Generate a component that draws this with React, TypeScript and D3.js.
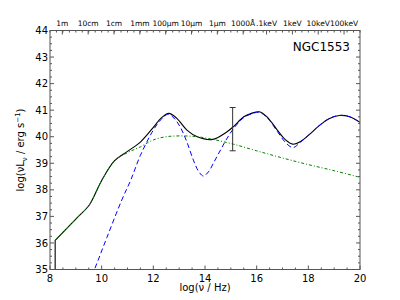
import React, { useEffect, useRef } from 'react';
import * as d3 from 'd3';

// SED of NGC1553: total model (black), AGN-like component (blue dashed), host (green dash-dot)
const totalNu = [8.2, 9.0, 9.5, 9.7, 10.0, 10.5, 11.0, 11.5, 12.0, 12.3, 12.6, 12.9, 13.3, 13.7, 14.3, 14.8, 15.1, 15.5, 15.8, 16.1, 16.4, 16.8, 17.1, 17.4, 17.7, 18.0, 18.4, 18.8, 19.2, 19.6, 20.0];
const totalL = [36.1, 36.9, 37.4, 37.75, 38.35, 39.1, 39.45, 39.8, 40.35, 40.7, 40.88, 40.7, 40.25, 40.0, 39.9, 40.15, 40.38, 40.75, 40.88, 40.94, 40.75, 40.25, 39.9, 39.72, 39.82, 40.05, 40.4, 40.68, 40.8, 40.75, 40.54];

const agnNu = [9.5, 9.72, 10.2, 10.78, 11.14, 11.5, 12.0, 12.3, 12.58, 12.8, 13.05, 13.3, 13.55, 13.75, 13.94, 14.15, 14.35, 14.6, 14.8, 15.1, 15.5, 15.8, 16.1, 16.4, 16.8, 17.1, 17.35, 17.45, 17.7, 18.0, 18.4, 18.8, 19.2, 19.6, 20.0];
const agnL = [34.5, 35.0, 36.2, 37.62, 38.4, 39.3, 40.25, 40.65, 40.85, 40.7, 40.35, 39.8, 39.12, 38.7, 38.52, 38.7, 39.05, 39.5, 39.85, 40.3, 40.72, 40.86, 40.92, 40.72, 40.2, 39.8, 39.6, 39.6, 39.8, 40.05, 40.4, 40.68, 40.8, 40.75, 40.54];

const hostNu = [8.2, 9.0, 9.5, 9.7, 10.0, 10.5, 11.0, 11.5, 12.0, 12.5, 13.0, 13.7, 14.4, 15.1, 16.0, 17.0, 18.0, 19.0, 20.0];
const hostL = [36.1, 36.9, 37.4, 37.75, 38.35, 39.1, 39.4, 39.62, 39.88, 40.0, 40.03, 40.0, 39.88, 39.72, 39.47, 39.2, 38.95, 38.72, 38.47];

// error bar point
const errNu = 15.07;
const errLow = 39.47;
const errHigh = 41.1;

// top axis: wavelength / energy labels
const topLabels = ['1m', '10cm', '1cm', '1mm', '100μm', '10μm', '1μm', '1000Å', '.1keV', '1keV', '10keV', '100keV'];
const topTicks = [8.477, 9.477, 10.477, 11.477, 12.477, 13.477, 14.477, 15.477, 16.383, 17.383, 18.383, 19.383];

const xTicks = [8, 10, 12, 14, 16, 18, 20];
const yTicks = [35, 36, 37, 38, 39, 40, 41, 42, 43, 44];

const W = 400, H = 300;
const font = 'DejaVu Sans, sans-serif';

const draw = (el: SVGSVGElement) => {
  const svg = d3.select(el);
  svg.selectAll('*').remove();

  const x = d3.scaleLinear().domain([8, 20]).range([50, 360]);
  const y = d3.scaleLinear().domain([35, 44]).range([269.5, 30.5]);
  const [x0, x1] = x.range();
  const [y0, y1] = y.range();

  svg.append('clipPath').attr('id', 'plotclip')
    .append('rect').attr('x', x0).attr('y', y1).attr('width', x1 - x0).attr('height', y0 - y1);

  const plot = svg.append('g').attr('clip-path', 'url(#plotclip)');
  const line = d3.line<[number, number]>()
    .x(d => x(d[0]))
    .y(d => y(d[1]))
    .curve(d3.curveCatmullRom.alpha(0.5));

  const zip = (a: number[], b: number[]) => a.map((v, i) => [v, b[i]] as [number, number]);

  // total (black), with the low-frequency cutoff
  plot.append('path').datum(zip(totalNu, totalL))
    .attr('d', line).attr('fill', 'none').attr('stroke', '#000').attr('stroke-width', 1.1);
  plot.append('line')
    .attr('x1', x(totalNu[0])).attr('x2', x(totalNu[0]))
    .attr('y1', y(35)).attr('y2', y(totalL[0]))
    .attr('stroke', '#000').attr('stroke-width', 1.1);

  plot.append('path').datum(zip(agnNu, agnL))
    .attr('d', line).attr('fill', 'none').attr('stroke', '#0000ff').attr('stroke-width', 1)
    .attr('stroke-dasharray', '5,3');

  plot.append('path').datum(zip(hostNu, hostL))
    .attr('d', line).attr('fill', 'none').attr('stroke', '#008000').attr('stroke-width', 1)
    .attr('stroke-dasharray', '3,2,1,2');

  // error bar
  const eb = svg.append('g').attr('stroke', '#333').attr('stroke-width', 1);
  eb.append('line').attr('x1', x(errNu)).attr('x2', x(errNu)).attr('y1', y(errLow)).attr('y2', y(errHigh));
  [errLow, errHigh].forEach(v => {
    eb.append('line').attr('x1', x(errNu) - 3).attr('x2', x(errNu) + 3).attr('y1', y(v)).attr('y2', y(v));
  });

  // frame
  svg.append('rect').attr('x', x0).attr('y', y1).attr('width', x1 - x0).attr('height', y0 - y1)
    .attr('fill', 'none').attr('stroke', '#555').attr('stroke-width', 1);

  const ticks = svg.append('g').attr('stroke', '#555').attr('stroke-width', 1);
  // x ticks bottom, major + minor every 0.5
  d3.range(8, 20.01, 0.5).forEach(v => {
    const len = v % 2 === 0 ? 4 : 2;
    ticks.append('line').attr('x1', x(v)).attr('x2', x(v)).attr('y1', y0).attr('y2', y0 - len);
  });
  // top ticks
  d3.range(8, 20.01, 0.25).forEach(v => {
    ticks.append('line').attr('x1', x(v)).attr('x2', x(v)).attr('y1', y1).attr('y2', y1 + 2);
  });
  topTicks.forEach(v => {
    ticks.append('line').attr('x1', x(v)).attr('x2', x(v)).attr('y1', y1).attr('y2', y1 + 4);
  });
  // y ticks, both sides
  d3.range(35, 44.01, 0.25).forEach(v => {
    const len = Math.abs(v - Math.round(v)) < 1e-6 ? 4 : 2;
    ticks.append('line').attr('x1', x0).attr('x2', x0 + len).attr('y1', y(v)).attr('y2', y(v));
    ticks.append('line').attr('x1', x1).attr('x2', x1 - len).attr('y1', y(v)).attr('y2', y(v));
  });

  const labels = svg.append('g').attr('font-family', font).attr('fill', '#000');
  xTicks.forEach(v => {
    labels.append('text').attr('x', x(v)).attr('y', y0 + 12).attr('text-anchor', 'middle')
      .attr('font-size', 10).text(v);
  });
  yTicks.forEach(v => {
    labels.append('text').attr('x', x0 - 2).attr('y', y(v) + 3.6).attr('text-anchor', 'end')
      .attr('font-size', 10).text(v);
  });
  topLabels.forEach((t, i) => {
    labels.append('text').attr('x', x(topTicks[i])).attr('y', y1 - 5).attr('text-anchor', 'middle')
      .attr('font-size', 7.5).text(t);
  });

  labels.append('text').attr('x', 350).attr('y', 51).attr('text-anchor', 'end')
    .attr('font-size', 12).text('NGC1553');

  labels.append('text').attr('x', (x0 + x1) / 2).attr('y', 291).attr('text-anchor', 'middle')
    .attr('font-size', 10).text('log(ν / Hz)');

  const yl = labels.append('text').attr('transform', `translate(24,${(y0 + y1) / 2}) rotate(-90)`)
    .attr('text-anchor', 'middle').attr('font-size', 10);
  yl.append('tspan').text('log(νL');
  yl.append('tspan').attr('font-size', 7).attr('dy', 2.5).text('ν');
  yl.append('tspan').attr('dy', -2.5).text(' / erg s');
  yl.append('tspan').attr('font-size', 7).attr('dy', -4).text('−1');
  yl.append('tspan').attr('dy', 4).text(')');
};

const App = () => {
  const ref = useRef<SVGSVGElement>(null);
  useEffect(() => {
    if (ref.current) draw(ref.current);
  }, []);
  return (
    <svg ref={ref} width={W} height={H}
      style={{ position: 'absolute', left: 0, top: 0, background: '#fff' }} />
  );
};

export default App;
